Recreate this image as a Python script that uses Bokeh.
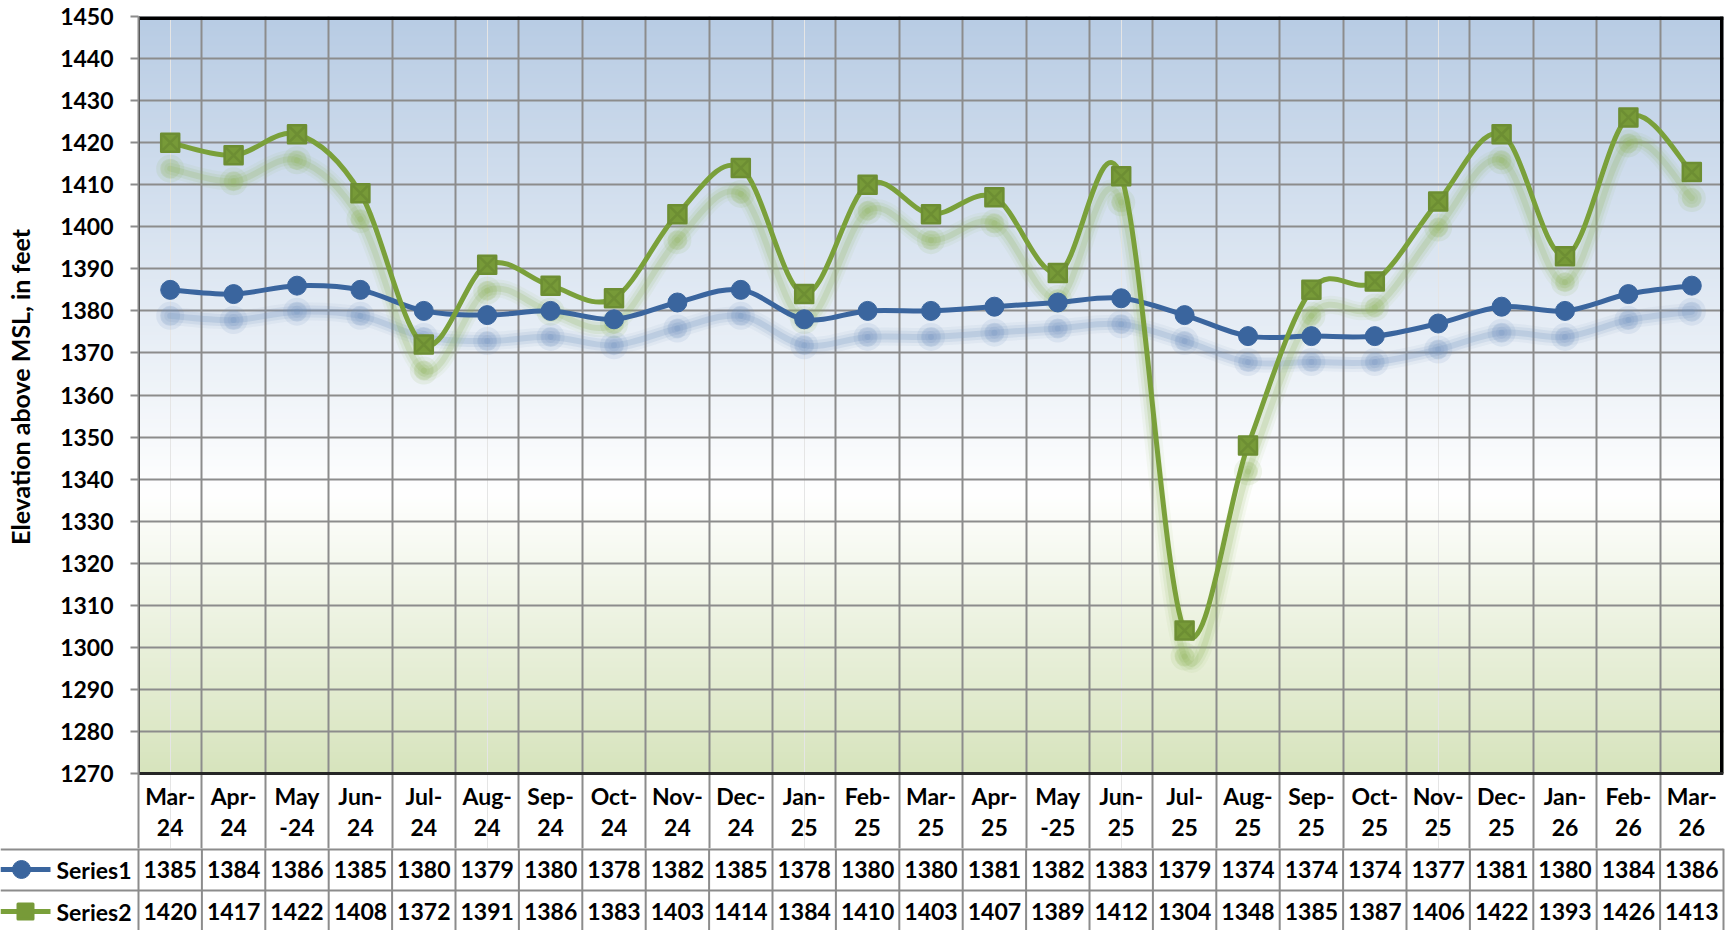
import numpy as np
from bokeh.plotting import figure
from bokeh.layouts import column, row
from bokeh.models import Range1d, FixedTicker, Grid, ColumnDataSource
from bokeh.core.properties import value
from bokeh.embed import file_html
from bokeh.resources import INLINE

# ---------------- data ----------------
header_labels = ["Mar-\n24", "Apr-\n24", "May\n-24", "Jun-\n24", "Jul-\n24", "Aug-\n24",
                 "Sep-\n24", "Oct-\n24", "Nov-\n24", "Dec-\n24", "Jan-\n25", "Feb-\n25",
                 "Mar-\n25", "Apr-\n25", "May\n-25", "Jun-\n25", "Jul-\n25", "Aug-\n25",
                 "Sep-\n25", "Oct-\n25", "Nov-\n25", "Dec-\n25", "Jan-\n26", "Feb-\n26",
                 "Mar-\n26"]
series1 = [1385, 1384, 1386, 1385, 1380, 1379, 1380, 1378, 1382, 1385, 1378, 1380, 1380,
           1381, 1382, 1383, 1379, 1374, 1374, 1374, 1377, 1381, 1380, 1384, 1386]
series2 = [1420, 1417, 1422, 1408, 1372, 1391, 1386, 1383, 1403, 1414, 1384, 1410, 1403,
           1407, 1389, 1412, 1304, 1348, 1385, 1387, 1406, 1422, 1393, 1426, 1413]
series_names = ["Series1", "Series2"]
y_ticks = list(range(1270, 1451, 10))
y_title = "Elevation above MSL, in feet"

# ---------------- style / layout ----------------
FONT = "Lato"
FS = "23px"
BLUE = "#3a659e"
BLUE_SH = "#6d8fbf"
GREEN = "#7aa03a"
GREEN_MK = "#779a38"
GREEN_X = "#6d8e33"
GREEN_SH = "#8fb25a"
GRID = "#8c8c8c"

W = 1732
LEFT = 138          # frame left edge (px)
RIGHT = 9           # space right of frame
TOP = 16            # frame top edge
PLOT_BOTTOM = 773   # pixel row of the lowest tick
HEADER_BOTTOM = 848 # bottom of the category header row of the table
TOTAL_H = 930
ROW_H = 42
HEAD_LINE1 = 795
HEAD_LINE2 = 827
SHADOW_PX = 26
TITLE_PAD = 15      # non-breaking spaces that lift the axis title onto the plot area

PLOT_H = HEADER_BOTTOM
TABLE_H = TOTAL_H - PLOT_H

n = len(series1)
idx = list(range(n))
frame_w = W - LEFT - RIGHT
upu = frame_w / n
y_lo, y_hi = y_ticks[0], y_ticks[-1]
px_per_y = (PLOT_BOTTOM - TOP) / (y_hi - y_lo)
xr = Range1d(-0.5, n - 0.5)
yr = Range1d(y_lo - (HEADER_BOTTOM - PLOT_BOTTOM) / px_per_y, y_hi)
sh = SHADOW_PX / px_per_y


def px_to_y(py):
    return y_hi - (py - TOP) / px_per_y


def bezier_segments(ys):
    xs = list(range(len(ys)))
    pts = list(zip(xs, ys))
    d = dict(x0=[], y0=[], x1=[], y1=[], cx0=[], cy0=[], cx1=[], cy1=[])
    m = len(pts)
    for i in range(m - 1):
        p0 = pts[i - 1] if i > 0 else pts[i]
        p1 = pts[i]
        p2 = pts[i + 1]
        p3 = pts[i + 2] if i + 2 < m else pts[i + 1]
        d["x0"].append(p1[0]); d["y0"].append(p1[1])
        d["x1"].append(p2[0]); d["y1"].append(p2[1])
        d["cx0"].append(p1[0] + (p2[0] - p0[0]) / 6.0)
        d["cy0"].append(p1[1] + (p2[1] - p0[1]) / 6.0)
        d["cx1"].append(p2[0] - (p3[0] - p1[0]) / 6.0)
        d["cy1"].append(p2[1] - (p3[1] - p1[1]) / 6.0)
    return ColumnDataSource(d)


p = figure(width=W, height=PLOT_H, x_range=xr, y_range=yr, x_axis_location=None,
           output_backend="svg", toolbar_location=None,
           min_border_left=LEFT, min_border_right=RIGHT, min_border_top=TOP,
           min_border_bottom=0, border_fill_color="white", background_fill_color="white",
           outline_line_color=None)
p.extra_y_ranges = {"shadow": Range1d(yr.start + sh, yr.end + sh)}

# background gradient (plot area only)
H = 600
tpos = np.linspace(0, 1, H)  # 0 = bottom, 1 = top
stop_pos = [0.0, 0.37, 1.0]
stop_col = [(0xd7, 0xe4, 0xbd), (0xff, 0xff, 0xff), (0xb8, 0xcc, 0xe4)]
img = np.empty((H, 1), dtype=np.uint32)
view = img.view(dtype=np.uint8).reshape((H, 1, 4))
for c in range(3):
    view[:, 0, c] = np.interp(tpos, stop_pos, [sc[c] for sc in stop_col]).astype(np.uint8)
view[:, 0, 3] = 255
p.image_rgba(image=[img], x=xr.start, y=y_lo, dw=xr.end - xr.start, dh=y_hi - y_lo,
             level="image")

# grids
p.ygrid.ticker = FixedTicker(ticks=y_ticks)
p.ygrid.grid_line_color = GRID
p.ygrid.grid_line_width = 2
p.add_layout(Grid(dimension=0, ticker=FixedTicker(ticks=[i + 0.5 for i in idx]),
                  grid_line_color=GRID, grid_line_width=2))

# y axis
ax = p.yaxis[0]
ax.ticker = FixedTicker(ticks=y_ticks)
ax.axis_label = "\u00a0" * TITLE_PAD + y_title
ax.axis_label_text_font = FONT
ax.axis_label_text_font_style = "bold"
ax.axis_label_text_font_size = "25px"
ax.axis_label_text_color = "black"
ax.axis_label_standoff = 22
ax.major_label_text_font = FONT
ax.major_label_text_font_style = "bold"
ax.major_label_text_font_size = FS
ax.major_label_text_color = "black"
ax.major_label_standoff = 17
ax.major_tick_out = 8
ax.major_tick_in = 0
ax.minor_tick_out = 0
ax.minor_tick_in = 0
ax.major_tick_line_color = GRID
ax.major_tick_line_width = 2
ax.axis_line_color = GRID
ax.axis_line_width = 2

# shadows
for ys, col in ((series1, BLUE_SH), (series2, GREEN_SH)):
    src = bezier_segments(ys)
    for lw, a in ((18, 0.07), (12, 0.12), (6, 0.2)):
        p.bezier(x0="x0", y0="y0", x1="x1", y1="y1", cx0="cx0", cy0="cy0", cx1="cx1",
                 cy1="cy1", source=src, line_color=col, line_width=lw, line_alpha=a,
                 line_cap="round", y_range_name="shadow")
    for sz, a in ((28, 0.12), (20, 0.2)):
        p.scatter(idx, ys, size=sz, marker="circle", fill_color=col, fill_alpha=a,
                  line_color=None, y_range_name="shadow")

# main lines
p.bezier(x0="x0", y0="y0", x1="x1", y1="y1", cx0="cx0", cy0="cy0", cx1="cx1", cy1="cy1",
         source=bezier_segments(series1), line_color=BLUE, line_width=5, line_cap="round")
p.bezier(x0="x0", y0="y0", x1="x1", y1="y1", cx0="cx0", cy0="cy0", cx1="cx1", cy1="cy1",
         source=bezier_segments(series2), line_color=GREEN, line_width=5, line_cap="round")
p.scatter(idx, series1, marker="circle", size=19, fill_color=BLUE, line_color=BLUE,
          line_width=1)
p.scatter(idx, series2, marker="square_x", size=18, fill_color=GREEN_MK,
          line_color=GREEN_X, line_width=2.5, line_join="round")

# plot-area border (frame edges clip half of the wider strokes)
p.segment(x0=[xr.start, xr.end], y0=[y_hi, y_lo], x1=[xr.end, xr.end], y1=[y_hi, y_hi],
          line_color="black", line_width=7)
p.segment(x0=[xr.start, xr.start], y0=[y_lo, y_lo], x1=[xr.end, xr.start], y1=[y_lo, y_hi],
          line_color="#262626", line_width=3)

# table header row (category labels) below the plot area
tops = [s.split("\n")[0] for s in header_labels]
bots = [s.split("\n")[1] for s in header_labels]
txt = dict(text_font=value(FONT), text_font_style="bold", text_font_size=FS,
           text_color="black", text_align="center", text_baseline="middle")
p.text(x=idx, y=px_to_y(HEAD_LINE1), text=tops, **txt)
p.text(x=idx, y=px_to_y(HEAD_LINE2), text=bots, **txt)

# ---------------- data rows of the table ----------------
tx0 = -0.5 - LEFT / upu
tx1 = n - 0.5 + RIGHT / upu
t = figure(width=W, height=TABLE_H, x_range=Range1d(tx0, tx1), y_range=Range1d(TABLE_H, 0),
           x_axis_location=None, y_axis_location=None, min_border=0,
           outline_line_color=None, output_backend="svg", toolbar_location=None,
           background_fill_color="white", border_fill_color="white")
t.grid.visible = False
t.extra_x_ranges = {"px": Range1d(0, W)}

row_lines = [0, ROW_H]
row_mid = [ROW_H / 2, ROW_H * 1.5]

vx = [i - 0.5 for i in range(n + 1)]
t.segment(x0=vx, y0=0, x1=vx, y1=TABLE_H, line_color=GRID, line_width=2)
t.segment(x0=0, y0=row_lines, x1=W - RIGHT, y1=row_lines, line_color=GRID,
          line_width=[4, 2], x_range_name="px")

t.text(x=idx, y=row_mid[0], text=[str(v) for v in series1], **txt)
t.text(x=idx, y=row_mid[1], text=[str(v) for v in series2], **txt)

# legend keys
t.segment(x0=0, y0=row_mid, x1=50, y1=row_mid, line_color=[BLUE, GREEN], line_width=5,
          x_range_name="px")
t.scatter(x=[21], y=[row_mid[0]], marker="circle", size=18, fill_color=BLUE,
          line_color=BLUE, x_range_name="px")
t.scatter(x=[25], y=[row_mid[1]], marker="square", size=15, fill_color=GREEN_MK,
          line_color=GREEN_MK, line_width=3, line_join="round", x_range_name="px")
t.text(x=LEFT - 7, y=row_mid, text=series_names, text_font=value(FONT),
       text_font_style="bold", text_font_size=FS, text_color="black",
       text_align="right", text_baseline="middle", x_range_name="px")

try:
    p.frame_align = False
    t.frame_align = False
    layout = column(p, t, spacing=0)
except Exception:
    layout = column(p, row(t, spacing=0), spacing=0)

open("out.html", "w").write(file_html(layout, INLINE))
